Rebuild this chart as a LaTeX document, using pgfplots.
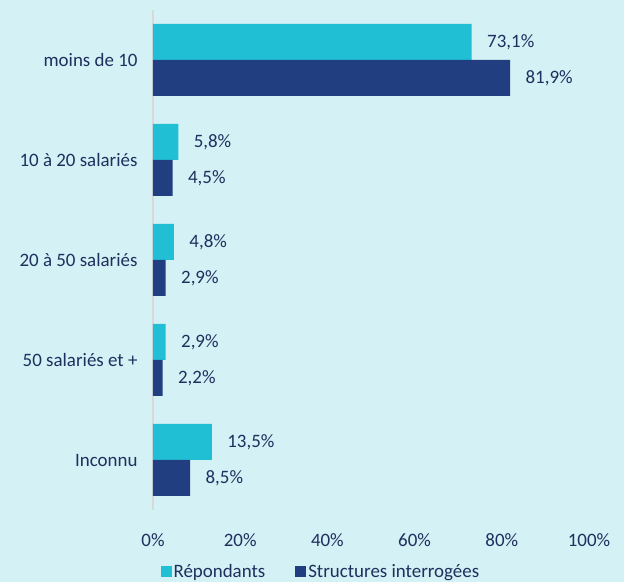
\documentclass[border=0pt]{standalone}
\usepackage{fontspec}
\setmainfont{Carlito}
\usepackage{pgfplots}
\pgfplotsset{compat=1.18}
\usetikzlibrary{backgrounds}
\definecolor{bg}{HTML}{D4F1F5}
\definecolor{rep}{HTML}{20BFD4}
\definecolor{stru}{HTML}{213F80}
\definecolor{txt}{HTML}{1F2F5E}
\definecolor{axgray}{HTML}{D9D9D9}
\begin{document}
\begin{tikzpicture}[font=\fontsize{19}{22}\selectfont, text=txt]
\begin{axis}[
name=ax,
scale only axis,
width=436bp, height=500bp,
xmin=0, xmax=100,
ymin=-0.5, ymax=4.5,
y dir=reverse,
xbar=0pt,
bar width=36bp,
axis lines*=left,
x axis line style={draw=none},
y axis line style={draw=axgray, line width=1.5bp, -},
major tick length=0pt,
xtick={0,20,40,60,80,100},
xticklabels={0\%,20\%,40\%,60\%,80\%,100\%},
xticklabel style={anchor=center, yshift=-30bp},
ytick={0,1,2,3,4},
yticklabels={moins de 10,10 à 20 salariés,20 à 50 salariés,50 salariés et +,Inconnu},
yticklabel style={anchor=east, xshift=-12bp},
/pgf/number format/assume math mode=true,
nodes near coords={\pgfmathprintnumber[fixed,fixed zerofill,precision=1,use comma]{\pgfplotspointmeta}\%},
nodes near coords align={horizontal},
every node near coord/.append style={text=txt, anchor=west, xshift=12bp},
point meta=x,
legend columns=2,
legend style={at={(0.385,-0.124)}, anchor=center, draw=none, fill=none,
  /tikz/every even column/.append style={column sep=28bp}},
legend image code/.code={\fill[#1] (-2bp,-5.5bp) rectangle (9bp,5.5bp);},
]
\addplot[fill=rep, draw=none, bar shift=18bp] coordinates {
(73.1,0) (5.8,1) (4.8,2) (2.9,3) (13.5,4)
};
\addplot[fill=stru, draw=none, bar shift=-18bp] coordinates {
(81.9,0) (4.5,1) (2.9,2) (2.2,3) (8.5,4)
};
\legend{Répondants, Structures interrogées}
\end{axis}
\begin{scope}[on background layer]
\fill[bg] ([xshift=-153bp,yshift=-72bp]ax.south west) rectangle ([xshift=35bp,yshift=10bp]ax.north east);
\end{scope}
\pgfresetboundingbox
\path[use as bounding box] ([xshift=-153bp,yshift=-72bp]ax.south west) rectangle ([xshift=35bp,yshift=10bp]ax.north east);
\end{tikzpicture}
\end{document}
